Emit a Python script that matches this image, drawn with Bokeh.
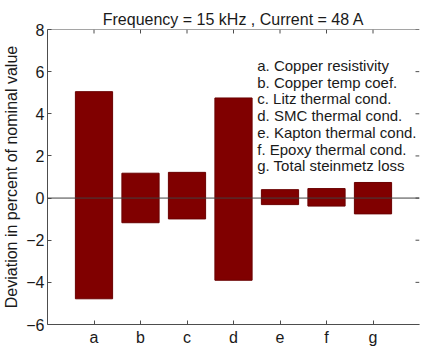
from bokeh.plotting import figure
from bokeh.models import Range1d, FixedTicker, Span, ColumnDataSource
from bokeh.embed import file_html
from bokeh.resources import INLINE
from bokeh.core.properties import value

# ---- data ----
categories = ["a", "b", "c", "d", "e", "f", "g"]
upper_dev = [5.05, 1.18, 1.22, 4.75, 0.40, 0.45, 0.74]
lower_dev = [-4.78, -1.17, -0.99, -3.90, -0.31, -0.38, -0.75]
y_ticks = [-6, -4, -2, 0, 2, 4, 6, 8]
y_tick_labels = ["\u22126", "\u22124", "\u22122", "0", "2", "4", "6", "8"]
legend_lines = [
    "a. Copper resistivity",
    "b. Copper temp coef.",
    "c. Litz thermal cond.",
    "d. SMC thermal cond.",
    "e. Kapton thermal cond.",
    "f. Epoxy thermal cond.",
    "g. Total steinmetz loss",
]
title_text = "Frequency = 15 kHz , Current = 48 A"
y_label = "Deviation in percent of nominal value"

FONT = "Liberation Sans"
AX = "#4d4d4d"
TXT = "#1a1a1a"

x_pos = list(range(1, len(categories) + 1))
x_lo, x_hi = 0, len(categories) + 1
y_lo, y_hi = y_ticks[0], y_ticks[-1]
src = ColumnDataSource(dict(x=x_pos, top=upper_dev, bottom=lower_dev))

p = figure(width=427, height=348, output_backend="svg", toolbar_location=None,
           x_range=Range1d(x_lo, x_hi), y_range=Range1d(y_lo, y_hi),
           min_border_left=45, min_border_right=8, min_border_top=29, min_border_bottom=23)
p.outline_line_color = None
p.grid.visible = False
p.background_fill_color = "white"
p.border_fill_color = "white"

p.title.text = title_text
p.title.text_font = FONT
p.title.text_font_size = "16px"
p.title.text_font_style = "normal"
p.title.text_color = TXT
p.title.align = "center"
p.title.vertical_align = "top"
p.title.standoff = 0
p.title.text_line_height = 1.0

p.vbar(x="x", top="top", bottom="bottom", width=0.8, source=src,
       fill_color="#800000", line_color="#6a0000", line_width=1)

p.add_layout(Span(location=0, dimension="width", line_color="#404040", line_width=1))

# bottom x axis
xa = p.xaxis[0]
xa.ticker = FixedTicker(ticks=x_pos)
xa.major_label_overrides = {x: c for x, c in zip(x_pos, categories)}
xa.minor_tick_line_color = None
xa.major_tick_in = 4
xa.major_tick_out = 0
xa.major_label_standoff = 4
xa.axis_line_color = AX
xa.major_tick_line_color = AX
xa.major_label_text_font = FONT
xa.major_label_text_font_size = "16px"
xa.major_label_text_color = TXT

# left y axis
ya = p.yaxis[0]
ya.ticker = FixedTicker(ticks=y_ticks)
ya.major_label_overrides = {t: l for t, l in zip(y_ticks, y_tick_labels)}
ya.minor_tick_line_color = None
ya.major_tick_in = 4
ya.major_tick_out = 0
ya.major_label_standoff = 3
ya.axis_line_color = AX
ya.major_tick_line_color = AX
ya.major_label_text_font = FONT
ya.major_label_text_font_size = "16px"
ya.major_label_text_color = TXT
ya.axis_label = y_label
ya.axis_label_text_font = FONT
ya.axis_label_text_font_size = "16px"
ya.axis_label_text_font_style = "normal"
ya.axis_label_text_color = TXT
ya.axis_label_standoff = 3

# top spine and inward ticks (top), inward ticks on right (no right spine)
p.add_layout(Span(location=y_hi, dimension="width", line_color=AX, line_width=1))
tick_len_y = 4 / 21.14   # 4 px in data units (vertical)
tick_len_x = 4 / 46.75   # 4 px in data units (horizontal)
p.segment(x0=x_pos, x1=x_pos, y0=[y_hi] * len(x_pos), y1=[y_hi - tick_len_y] * len(x_pos),
          line_color=AX, line_width=1)
p.segment(x0=[x_hi] * len(y_ticks), x1=[x_hi - tick_len_x] * len(y_ticks), y0=y_ticks, y1=y_ticks,
          line_color=AX, line_width=1)

# legend text block (top right)
n = len(legend_lines)
leg_x = [4.51] * n
leg_y = [6.30 - 0.796 * i for i in range(n)]
p.text(x=leg_x, y=leg_y, text=legend_lines, text_font=value(FONT),
       text_font_size="15px", text_color=TXT, text_baseline="alphabetic", text_align="left")

open("out.html", "w").write(file_html(p, INLINE))
